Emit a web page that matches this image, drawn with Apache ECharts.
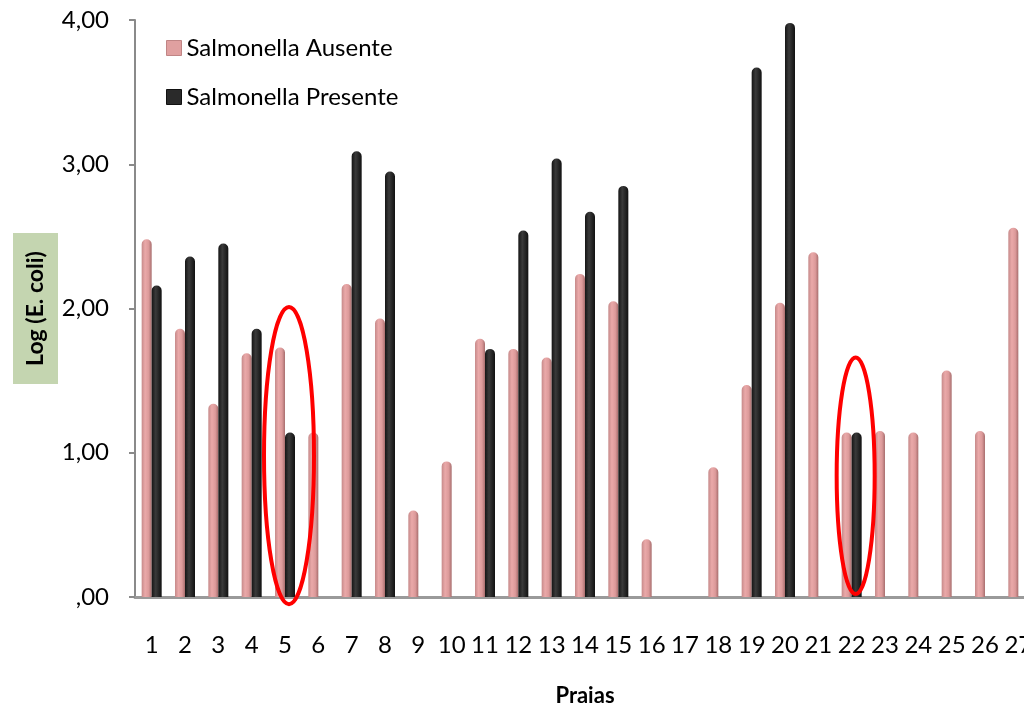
<!DOCTYPE html>
<html>
<head>
<meta charset="utf-8">
<script src="https://cdn.jsdelivr.net/npm/echarts@6/dist/echarts.min.js"></script>
<style>
html,body{margin:0;padding:0;background:#fff;}
#c{width:1024px;height:708px;}
</style>
</head>
<body>
<div id="c"></div>
<script>
const categories = ['1','2','3','4','5','6','7','8','9','10','11','12','13','14','15','16','17','18','19','20','21','22','23','24','25','26','27'];
const ausente = [2.48,1.86,1.34,1.69,1.73,1.14,2.17,1.93,0.60,0.94,1.79,1.72,1.66,2.24,2.05,0.40,0,0.90,1.47,2.04,2.39,1.14,1.15,1.14,1.57,1.15,2.56];
const presente = [2.16,2.36,2.45,1.86,1.14,0,3.09,2.95,0,0,1.72,2.54,3.04,2.67,2.85,0,0,0,3.67,3.98,0,1.14,0,0,0,0,0];
const yTicks = [0,1,2,3,4];
// highlighted beaches (red ellipses): category, centre value, half-height in value units
const highlights = [
  {cat:'5', value:0.98, half:1.03},
  {cat:'22', value:0.84, half:0.82}
];

const FONT = 'Lato';
const pinkGrad = new echarts.graphic.LinearGradient(0,0,1,0,[
  {offset:0,color:'#c68a8a'},{offset:0.35,color:'#eaa9a9'},{offset:0.7,color:'#dc9a9a'},{offset:1,color:'#a86e6e'}]);
const blackGrad = new echarts.graphic.LinearGradient(0,0,1,0,[
  {offset:0,color:'#151515'},{offset:0.4,color:'#3a3a3a'},{offset:1,color:'#111111'}]);

const chart = echarts.init(document.getElementById('c'), null, {renderer:'canvas'});
chart.setOption({
  animation:false,
  backgroundColor:'#ffffff',
  textStyle:{fontFamily:FONT},
  grid:{left:135,right:-11,top:20,bottom:111,containLabel:false,outerBoundsMode:'none'},
  legend:{
    orient:'vertical', left:161, top:31, itemGap:25,
    itemWidth:15, itemHeight:15, icon:'rect',
    textStyle:{fontFamily:FONT, fontSize:24, color:'#000'},
    data:[
      {name:'Salmonella Ausente', icon:'rect', itemStyle:{color:'#e0a0a0', borderColor:'#c08585', borderWidth:1}},
      {name:'Salmonella Presente', icon:'rect', itemStyle:{color:'#2a2a2a', borderColor:'#111', borderWidth:1}}
    ]
  },
  xAxis:{
    type:'category', data:categories,
    name:'Praias', nameLocation:'middle', nameGap:88,
    nameTextStyle:{fontFamily:FONT, fontSize:22, fontWeight:'bold', color:'#000'},
    axisLine:{lineStyle:{color:'#9a9a9a', width:3}},
    axisTick:{show:false},
    axisLabel:{color:'#000', fontSize:24, fontFamily:FONT, margin:36, interval:0}
  },
  yAxis:{
    type:'value', min:0, max:4, interval:1,
    name:'Log (E. coli)', nameLocation:'middle', nameGap:77, nameRotate:90,
    nameMoveOverlap:false,
    nameTextStyle:{fontFamily:FONT, fontSize:23, fontWeight:'bold', color:'#000',
      backgroundColor:'#c4d5b0', padding:[11,18,11,18]},
    axisLine:{show:true, lineStyle:{color:'#8a8a8a', width:2}},
    axisTick:{show:true, length:6, lineStyle:{color:'#8a8a8a', width:2}},
    splitLine:{show:false},
    axisLabel:{color:'#000', fontSize:24, fontFamily:FONT, margin:26,
      formatter:function(v){ return v===0 ? ',00' : v.toFixed(2).replace('.', ','); }}
  },
  series:[
    {name:'Salmonella Ausente', type:'bar', data:ausente, barWidth:10, barGap:'0%',
     itemStyle:{color:pinkGrad, borderRadius:[5,5,0,0]}},
    {name:'Salmonella Presente', type:'bar', data:presente, barWidth:10, barGap:'0%',
     itemStyle:{color:blackGrad, borderRadius:[5,5,0,0]}}
  ]
});

// red ellipses positioned from the axes
const els = highlights.map(function(h){
  const cx = chart.convertToPixel({xAxisIndex:0}, h.cat) + 4;
  const cy = chart.convertToPixel({yAxisIndex:0}, h.value);
  const top = chart.convertToPixel({yAxisIndex:0}, h.value + h.half);
  const ry = cy - top;
  const rx = h.cat === '5' ? 25 : 19;
  return {type:'ellipse', shape:{cx:cx, cy:cy, rx:rx, ry:ry},
    style:{fill:'none', stroke:'#ff0000', lineWidth:4}, z:100};
});
chart.setOption({graphic:els});
</script>
</body>
</html>
